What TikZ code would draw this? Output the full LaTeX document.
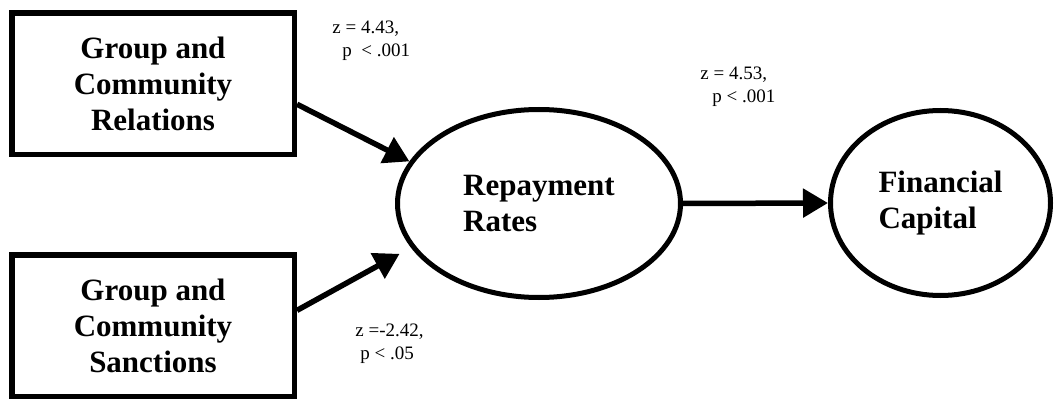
\documentclass[tikz,border=0pt]{standalone}
\usepackage{fontspec}
\setmainfont{Liberation Serif}
\usepackage{tikz}
\usetikzlibrary{positioning, arrows.meta, shapes.geometric}

\begin{document}
\begin{tikzpicture}[x=0.5pt, y=-0.5pt,
  construct/.style={draw, line width=2.75pt, minimum width=141.25pt,
    minimum height=70.75pt, align=center, inner sep=0pt,
    font=\fontsize{15.5}{18}\selectfont\bfseries},
  outcome/.style={draw, ellipse, line width=2.5pt, align=left, inner sep=0pt,
    font=\fontsize{15.5}{18}\selectfont\bfseries},
  stat/.style={anchor=west, align=left, inner sep=0pt,
    font=\fontsize{9.5}{11.5}\selectfont},
  effect/.style={line width=2.75pt, -{Triangle[length=12.5pt, width=14pt]}}]
  \useasboundingbox (0,0) rectangle (1055,401);
  % Predictors
  \node[construct] (gcr) at (153,84) {Group and\\Community\\Relations};
  \node[construct] (gcs) at (153,325.5) {Group and\\Community\\Sanctions};
  % Outcomes
  \node[outcome, minimum width=141.5pt, minimum height=94pt] (rr)
    at (539,203.5) {Repayment\\Rates};
  \node[outcome, minimum width=110pt, minimum height=92.5pt] (fc)
    at (940.5,203) {Financial\\Capital};
  % Paths
  \draw[effect] (gcr.-8.3) -- (rr.162.8);
  \draw[effect, shorten >=6.5pt] (gcs.6.1) -- (rr.199.9);
  \draw[effect] (rr.east) -- (fc.west);
  % Path statistics
  \node[stat] (zrel) at (332,40.5) {z = 4.43,\\\hspace*{5pt}p~~< .001};
  \node[stat] (zrep) at (700,86.5) {z = 4.53,\\\hspace*{6pt}p < .001};
  \node[stat] (zsan) at (355,344) {z =-2.42,\\\hspace*{2.5pt}p < .05};
\end{tikzpicture}
\end{document}
